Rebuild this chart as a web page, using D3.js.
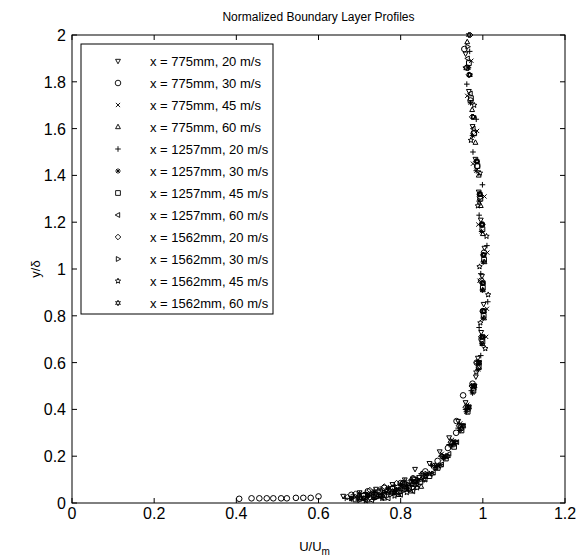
<!DOCTYPE html>
<html>
<head>
<meta charset="utf-8">
<script src="https://cdn.jsdelivr.net/npm/d3@7"></script>
<style>
  body { margin: 0; background: #fff; }
  svg { font-family: "Liberation Sans", Arial, sans-serif; }
</style>
</head>
<body>
<svg id="chart" width="579" height="557"></svg>
<script>
// Normalized boundary layer profiles, [U/Um, y/delta] per run

var s775_20 = [[0.66,0.03],[0.68,0.02],[0.70,0.045],[0.72,0.03],[0.74,0.06],[0.76,0.04],[0.78,0.08],[0.79,0.055],[0.81,0.10],[0.82,0.07],[0.835,0.145],[0.845,0.11],[0.87,0.17],[0.895,0.22],[0.918,0.28],[0.94,0.35],[0.958,0.43],[0.983,0.54],[0.988,0.62],[0.996,0.73],[1.002,0.85],[0.998,0.97],[1.004,1.09],[0.995,1.21],[0.99,1.33],[0.982,1.47],[0.975,1.61],[0.966,1.76],[0.958,1.92]];
var s775_30 = [[0.407,0.018],[0.437,0.02],[0.456,0.02],[0.474,0.02],[0.49,0.02],[0.509,0.02],[0.523,0.02],[0.545,0.022],[0.563,0.022],[0.581,0.022],[0.60,0.028],[0.68,0.035],[0.70,0.02],[0.72,0.05],[0.74,0.03],[0.76,0.065],[0.78,0.045],[0.80,0.085],[0.81,0.06],[0.83,0.105],[0.86,0.135],[0.89,0.18],[0.915,0.235],[0.935,0.30],[0.936,0.35],[0.952,0.46],[0.975,0.51],[0.985,0.60],[0.997,0.70],[1.0,0.82],[0.996,0.95],[1.003,1.07],[0.998,1.19],[0.993,1.31],[0.986,1.44],[0.978,1.58],[0.97,1.72],[0.962,1.86],[0.955,1.94]];
var s775_45 = [[0.69,0.025],[0.71,0.015],[0.73,0.04],[0.75,0.025],[0.77,0.055],[0.785,0.04],[0.805,0.075],[0.815,0.055],[0.83,0.095],[0.84,0.075],[0.855,0.12],[0.88,0.16],[0.90,0.21],[0.925,0.27],[0.945,0.34],[0.962,0.42],[0.975,0.50],[0.99,0.60],[1.008,0.71],[1.01,0.83],[0.992,0.95],[1.011,1.07],[0.989,1.19],[1.004,1.31],[0.976,1.45],[0.986,1.59],[0.962,1.74],[0.972,1.89]];
var s775_60 = [[0.70,0.022],[0.72,0.012],[0.745,0.035],[0.76,0.02],[0.78,0.05],[0.795,0.035],[0.81,0.07],[0.825,0.05],[0.835,0.09],[0.85,0.07],[0.86,0.115],[0.885,0.15],[0.905,0.195],[0.928,0.25],[0.948,0.32],[0.964,0.40],[0.978,0.49],[0.99,0.58],[0.999,0.68],[1.003,0.79],[1.0,0.91],[1.004,1.03],[1.0,1.15],[0.995,1.27],[0.99,1.40],[0.982,1.54],[0.974,1.68],[0.968,1.83],[0.962,1.97]];
var s1257_20 = [[0.665,0.02],[0.685,0.035],[0.70,0.03],[0.715,0.045],[0.735,0.045],[0.75,0.06],[0.77,0.06],[0.785,0.075],[0.80,0.08],[0.81,0.095],[0.826,0.10],[0.85,0.125],[0.875,0.16],[0.898,0.20],[0.918,0.25],[0.94,0.32],[0.958,0.40],[0.972,0.48],[0.995,0.63],[0.991,0.75],[1.012,0.86],[0.995,0.98],[1.01,1.10],[0.991,1.23],[0.999,1.36],[0.976,1.50],[0.984,1.64],[0.961,1.79],[0.968,1.93]];
var s1257_30 = [[0.68,0.018],[0.70,0.04],[0.72,0.03],[0.735,0.05],[0.755,0.04],[0.77,0.065],[0.79,0.055],[0.80,0.08],[0.815,0.075],[0.84,0.095],[0.862,0.12],[0.887,0.155],[0.905,0.19],[0.925,0.245],[0.945,0.31],[0.96,0.39],[0.975,0.47],[0.989,0.57],[0.998,0.68],[1.001,0.79],[0.999,0.91],[1.001,1.03],[0.997,1.16],[0.991,1.29],[0.984,1.42],[0.975,1.57],[0.97,1.71],[0.965,1.86]];
var s1257_45 = [[0.69,0.015],[0.71,0.03],[0.735,0.025],[0.75,0.045],[0.76,0.035],[0.78,0.06],[0.795,0.05],[0.81,0.08],[0.82,0.065],[0.835,0.1],[0.848,0.09],[0.87,0.115],[0.89,0.15],[0.91,0.19],[0.93,0.24],[0.948,0.31],[0.963,0.39],[0.977,0.48],[0.99,0.58],[0.999,0.69],[1.002,0.80],[1.0,0.92],[1.003,1.04],[0.999,1.17],[0.994,1.30],[0.987,1.44],[0.979,1.58],[0.971,1.73],[0.966,1.88]];
var s1257_60 = [[0.71,0.02],[0.73,0.012],[0.75,0.03],[0.77,0.02],[0.785,0.045],[0.80,0.035],[0.815,0.06],[0.83,0.05],[0.84,0.08],[0.86,0.10],[0.88,0.13],[0.90,0.165],[0.918,0.21],[0.937,0.26],[0.953,0.33],[0.967,0.41],[0.98,0.50],[0.992,0.60],[1.0,0.71],[1.003,0.82],[1.001,0.94],[1.002,1.06],[0.998,1.19],[0.993,1.32],[0.985,1.46],[0.977,1.60],[0.97,1.75],[0.963,1.90]];
var s1562_20 = [[0.67,0.025],[0.69,0.04],[0.71,0.035],[0.725,0.055],[0.745,0.05],[0.76,0.07],[0.78,0.065],[0.79,0.085],[0.805,0.085],[0.83,0.105],[0.852,0.125],[0.878,0.16],[0.90,0.20],[0.922,0.26],[0.942,0.33],[0.958,0.41],[0.973,0.50],[0.986,0.60],[0.996,0.71],[1.0,0.82],[0.999,0.94],[1.001,1.06],[0.997,1.19],[0.992,1.32],[0.984,1.46],[0.974,1.65],[0.966,1.83],[0.969,2.0]];
var s1562_30 = [[0.68,0.02],[0.70,0.012],[0.72,0.032],[0.74,0.022],[0.76,0.045],[0.775,0.035],[0.79,0.06],[0.80,0.045],[0.818,0.08],[0.83,0.065],[0.842,0.10],[0.863,0.125],[0.886,0.16],[0.905,0.20],[0.926,0.26],[0.946,0.33],[0.961,0.41],[0.976,0.50],[0.989,0.60],[0.998,0.71],[1.002,0.82],[1.0,0.94],[1.002,1.06],[0.999,1.19],[0.993,1.32],[0.986,1.46],[0.977,1.65],[0.968,1.83],[0.963,1.95]];
var s1562_45 = [[0.695,0.02],[0.715,0.01],[0.735,0.03],[0.755,0.02],[0.77,0.045],[0.785,0.03],[0.80,0.06],[0.815,0.045],[0.826,0.08],[0.84,0.065],[0.85,0.10],[0.87,0.125],[0.892,0.16],[0.91,0.20],[0.93,0.26],[0.949,0.33],[0.964,0.41],[0.978,0.50],[0.984,0.56],[1.006,0.66],[0.994,0.77],[1.013,0.89],[0.992,1.01],[1.009,1.14],[0.988,1.27],[0.993,1.41],[0.971,1.55],[0.979,1.70],[0.958,1.86]];
var s1562_60 = [[0.71,0.02],[0.725,0.035],[0.75,0.03],[0.765,0.05],[0.785,0.045],[0.80,0.07],[0.812,0.06],[0.825,0.09],[0.835,0.08],[0.857,0.10],[0.876,0.125],[0.897,0.16],[0.915,0.20],[0.934,0.26],[0.952,0.33],[0.966,0.41],[0.98,0.50],[0.991,0.60],[1.0,0.71],[1.003,0.82],[1.0,0.94],[1.002,1.06],[0.998,1.19],[0.993,1.32],[0.986,1.46],[0.977,1.65],[0.968,1.83],[0.966,2.0]];

var labels = ["x = 775mm, 20 m/s", "x = 775mm, 30 m/s", "x = 775mm, 45 m/s", "x = 775mm, 60 m/s",
              "x = 1257mm, 20 m/s", "x = 1257mm, 30 m/s", "x = 1257mm, 45 m/s", "x = 1257mm, 60 m/s",
              "x = 1562mm, 20 m/s", "x = 1562mm, 30 m/s", "x = 1562mm, 45 m/s", "x = 1562mm, 60 m/s"];
var markers = ["tdown", "circle", "x", "tup", "plus", "star", "square", "tleft", "diamond", "tright", "penta", "hexa"];
var seriesData = [s775_20, s775_30, s775_45, s775_60, s1257_20, s1257_30, s1257_45, s1257_60,
                  s1562_20, s1562_30, s1562_45, s1562_60];
var xTicks = [0, 0.2, 0.4, 0.6, 0.8, 1, 1.2];
var yTicks = [0, 0.2, 0.4, 0.6, 0.8, 1, 1.2, 1.4, 1.6, 1.8, 2];

var pLeft = 72, pRight = 565, pTop = 35, pBottom = 503;

var x = d3.scaleLinear().domain([0, 1.2]).range([pLeft, pRight]);
var y = d3.scaleLinear().domain([0, 2]).range([pBottom, pTop]);

var svg = d3.select("#chart");

// marker shapes, roughly the matlab ones
function markerPath(type, r) {
  var p = d3.path();
  if (type == "circle") {
    p.moveTo(r, 0); p.arc(0, 0, r, 0, 2 * Math.PI);
  } else if (type == "square") {
    p.rect(-r * 0.85, -r * 0.85, r * 1.7, r * 1.7);
  } else if (type == "diamond") {
    p.moveTo(0, -r); p.lineTo(r, 0); p.lineTo(0, r); p.lineTo(-r, 0); p.closePath();
  } else if (type == "tdown" || type == "tup" || type == "tleft" || type == "tright") {
    var rot = {tup: 0, tright: 90, tdown: 180, tleft: 270}[type] * Math.PI / 180;
    var pts = [[0, -r], [r * 0.87, r * 0.6], [-r * 0.87, r * 0.6]].map(function(q) {
      return [q[0] * Math.cos(rot) - q[1] * Math.sin(rot), q[0] * Math.sin(rot) + q[1] * Math.cos(rot)];
    });
    p.moveTo(pts[0][0], pts[0][1]); p.lineTo(pts[1][0], pts[1][1]); p.lineTo(pts[2][0], pts[2][1]); p.closePath();
  } else if (type == "plus") {
    p.moveTo(-r, 0); p.lineTo(r, 0); p.moveTo(0, -r); p.lineTo(0, r);
  } else if (type == "x") {
    var k = r * 0.75;
    p.moveTo(-k, -k); p.lineTo(k, k); p.moveTo(-k, k); p.lineTo(k, -k);
  } else if (type == "star") {
    p.moveTo(-r, 0); p.lineTo(r, 0); p.moveTo(0, -r); p.lineTo(0, r);
    var s = r * 0.7;
    p.moveTo(-s, -s); p.lineTo(s, s); p.moveTo(-s, s); p.lineTo(s, -s);
  } else if (type == "penta" || type == "hexa") {
    var n = type == "penta" ? 5 : 6;
    for (var i = 0; i < n * 2; i++) {
      var rr = i % 2 == 0 ? r : r * 0.45;
      var a = -Math.PI / 2 + i * Math.PI / n;
      if (i == 0) p.moveTo(rr * Math.cos(a), rr * Math.sin(a));
      else p.lineTo(rr * Math.cos(a), rr * Math.sin(a));
    }
    p.closePath();
  }
  return p.toString();
}

// axes box
svg.append("rect")
  .attr("x", pLeft).attr("y", pTop)
  .attr("width", pRight - pLeft).attr("height", pBottom - pTop)
  .attr("fill", "none").attr("stroke", "#000").attr("stroke-width", 1);

// ticks inward on all four sides
var tickLen = 5;
svg.append("g").selectAll("line").data(xTicks).enter().append("line")
  .attr("x1", function(d) { return x(d); }).attr("x2", function(d) { return x(d); })
  .attr("y1", pBottom).attr("y2", pBottom - tickLen).attr("stroke", "#000");
svg.append("g").selectAll("line").data(xTicks).enter().append("line")
  .attr("x1", function(d) { return x(d); }).attr("x2", function(d) { return x(d); })
  .attr("y1", pTop).attr("y2", pTop + tickLen).attr("stroke", "#000");
svg.append("g").selectAll("line").data(yTicks).enter().append("line")
  .attr("y1", function(d) { return y(d); }).attr("y2", function(d) { return y(d); })
  .attr("x1", pLeft).attr("x2", pLeft + tickLen).attr("stroke", "#000");
svg.append("g").selectAll("line").data(yTicks).enter().append("line")
  .attr("y1", function(d) { return y(d); }).attr("y2", function(d) { return y(d); })
  .attr("x1", pRight).attr("x2", pRight - tickLen).attr("stroke", "#000");

svg.append("g").selectAll("text").data(xTicks).enter().append("text")
  .attr("x", function(d) { return x(d); })
  .attr("y", pBottom + 16)
  .attr("text-anchor", "middle")
  .style("font-size", "16px")
  .text(function(d) { return d; });

svg.append("g").selectAll("text").data(yTicks).enter().append("text")
  .attr("x", pLeft - 6)
  .attr("y", function(d) { return y(d) + 6; })
  .attr("text-anchor", "end")
  .style("font-size", "16px")
  .text(function(d) { return d; });

// title and axis labels
svg.append("text")
  .attr("x", (pLeft + pRight) / 2).attr("y", 21)
  .attr("text-anchor", "middle")
  .style("font-size", "12px")
  .text("Normalized Boundary Layer Profiles");

var xl = svg.append("text")
  .attr("x", (pLeft + pRight) / 2 - 4).attr("y", 551)
  .attr("text-anchor", "middle")
  .style("font-size", "13px");
xl.append("tspan").text("U/U");
xl.append("tspan").attr("dy", 4).style("font-size", "10px").text("m");

svg.append("text")
  .attr("transform", "translate(40," + ((pTop + pBottom) / 2) + ") rotate(-90)")
  .attr("text-anchor", "middle")
  .style("font-size", "13px")
  .text("y/δ");

// data points
seriesData.forEach(function(data, i) {
  svg.append("g").selectAll("path").data(data).enter().append("path")
    .attr("transform", function(d) { return "translate(" + x(d[0]) + "," + y(d[1]) + ")"; })
    .attr("d", markerPath(markers[i], 2.8))
    .attr("fill", "none")
    .attr("stroke", "#000")
    .attr("stroke-width", 1);
});

// legend
var lg = svg.append("g");
lg.append("rect")
  .attr("x", 81).attr("y", 44).attr("width", 192).attr("height", 270)
  .attr("fill", "#fff").attr("stroke", "#000").attr("stroke-width", 1);
labels.forEach(function(lab, i) {
  var ly = 61 + i * 22;
  lg.append("path")
    .attr("transform", "translate(118," + ly + ")")
    .attr("d", markerPath(markers[i], 2.8))
    .attr("fill", "none").attr("stroke", "#000").attr("stroke-width", 0.9);
  lg.append("text")
    .attr("x", 150).attr("y", ly + 4.5)
    .style("font-size", "13px")
    .text(lab);
});
</script>
</body>
</html>
